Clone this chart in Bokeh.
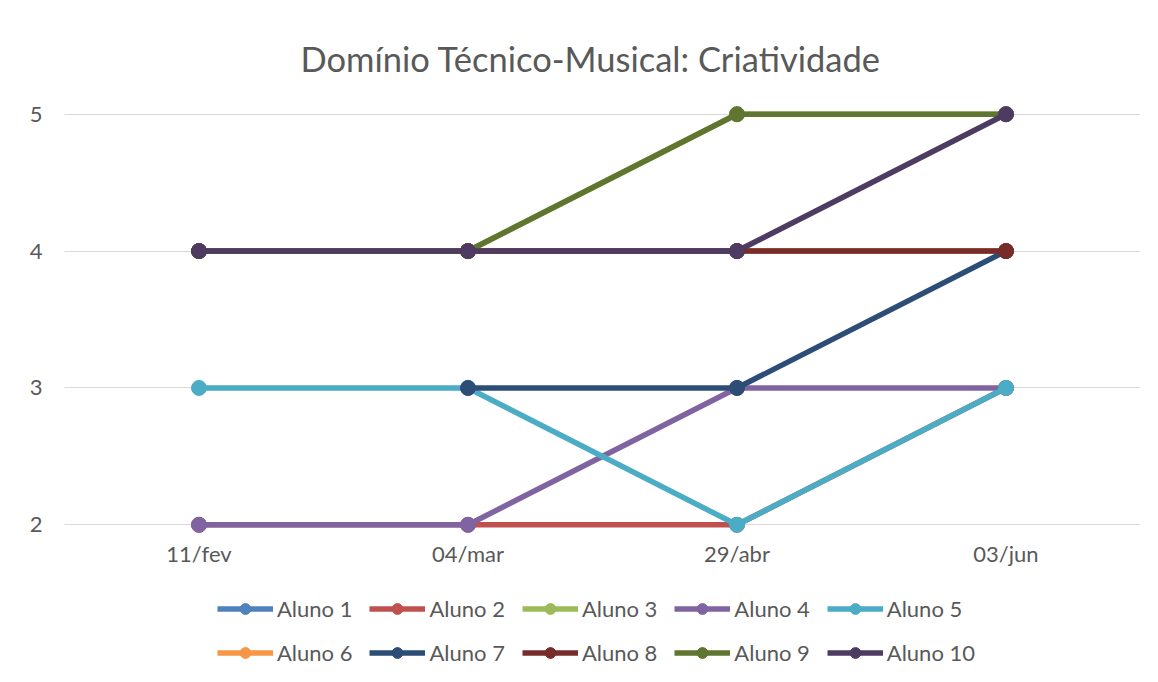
import math
from bokeh.plotting import figure
from bokeh.layouts import column
from bokeh.models import Range1d, FactorRange, FixedTicker, Legend, LegendItem
from bokeh.core.properties import value
from bokeh.embed import file_html
from bokeh.resources import INLINE

NaN = float("nan")

dates = ["11/fev", "04/mar", "29/abr", "03/jun"]
y_ticks = [2, 3, 4, 5]
title_text = "Domínio Técnico-Musical: Criatividade"

aluno_1 = [4, 4, 4, 4]
aluno_2 = [2, 2, 2, 3]
aluno_3 = [4, 4, 5, 5]
aluno_4 = [2, 2, 3, 3]
aluno_5 = [3, 3, 2, 3]
aluno_6 = [4, 4, 4, 4]
aluno_7 = [NaN, 3, 3, 4]
aluno_8 = [4, 4, 4, 4]
aluno_9 = [4, 4, 5, 5]
aluno_10 = [4, 4, 4, 5]

names = ["Aluno 1", "Aluno 2", "Aluno 3", "Aluno 4", "Aluno 5",
         "Aluno 6", "Aluno 7", "Aluno 8", "Aluno 9", "Aluno 10"]
values = [aluno_1, aluno_2, aluno_3, aluno_4, aluno_5,
          aluno_6, aluno_7, aluno_8, aluno_9, aluno_10]
colors = ["#4F81BD", "#C0504D", "#9BBB59", "#8064A2", "#4BACC6",
          "#F79646", "#2C4D75", "#772C2A", "#5F7530", "#4D3B62"]

FONT = "Lato"
TXT = "#595959"
LW = 5.5
MS = 15

p = figure(frame_width=1076, frame_height=438, x_range=dates, y_range=Range1d(1.9, 5.1),
           output_backend="svg", toolbar_location=None,
           min_border_left=64, min_border_right=10,
           min_border_top=100, min_border_bottom=40,
           title=title_text)

p.title.text_font = FONT
p.title.text_font_size = "34.5px"
p.title.text_font_style = "normal"
p.title.text_color = TXT
p.title.align = "left"
p.title.offset = 236
p.title.standoff = 44

p.outline_line_color = None
p.background_fill_color = "white"
p.border_fill_color = "white"

p.xgrid.grid_line_color = None
p.ygrid.grid_line_color = "#D9D9D9"
p.ygrid.grid_line_width = 1

p.yaxis.ticker = FixedTicker(ticks=y_ticks)
p.yaxis.axis_line_color = None
p.yaxis.major_tick_line_color = None
p.yaxis.minor_tick_line_color = None
p.yaxis.major_tick_out = 0
p.yaxis.major_tick_in = 0
p.yaxis.major_label_standoff = 22
p.yaxis.major_label_text_font = FONT
p.yaxis.major_label_text_font_size = "22px"
p.yaxis.major_label_text_color = TXT

p.xaxis.axis_line_color = None
p.xaxis.major_tick_line_color = None
p.xaxis.minor_tick_line_color = None
p.xaxis.major_tick_out = 0
p.xaxis.major_tick_in = 0
p.xaxis.major_label_standoff = 1
p.xaxis.major_label_text_font = FONT
p.xaxis.major_label_text_font_size = "22px"
p.xaxis.major_label_text_color = TXT

for name, vals, c in zip(names, values, colors):
    p.line(x=dates, y=vals, line_color=c, line_width=LW)
    p.scatter(x=dates, y=vals, size=MS, fill_color=c, line_color=c)

# legend strip below the chart: same series, drawn outside its visible range,
# so only the legend shows
lp = figure(width=1150, height=96, x_range=FactorRange(*dates), y_range=Range1d(100, 101),
            output_backend="svg", toolbar_location=None,
            x_axis_location=None, y_axis_location=None,
            min_border_left=64, min_border_right=10,
            min_border_top=0, min_border_bottom=0)
lp.outline_line_color = None
lp.xgrid.grid_line_color = None
lp.ygrid.grid_line_color = None
lp.background_fill_color = "white"
lp.border_fill_color = "white"

items = []
for name, vals, c in zip(names, values, colors):
    rl = lp.line(x=dates, y=vals, line_color=c, line_width=LW)
    rs = lp.scatter(x=dates, y=vals, size=MS, fill_color=c, line_color=c)
    items.append(LegendItem(label=name, renderers=[rl, rs]))

legend = Legend(items=items, orientation="horizontal", ncols=5,
                location=(153, 8), glyph_width=56, glyph_height=27,
                label_standoff=4, spacing=17, padding=0, margin=0,
                border_line_color=None, background_fill_alpha=0,
                label_text_font=FONT, label_text_font_size="22px",
                label_text_color=TXT)
lp.add_layout(legend)

layout = column(p, lp, spacing=0)
open("out.html", "w").write(file_html(layout, INLINE))
